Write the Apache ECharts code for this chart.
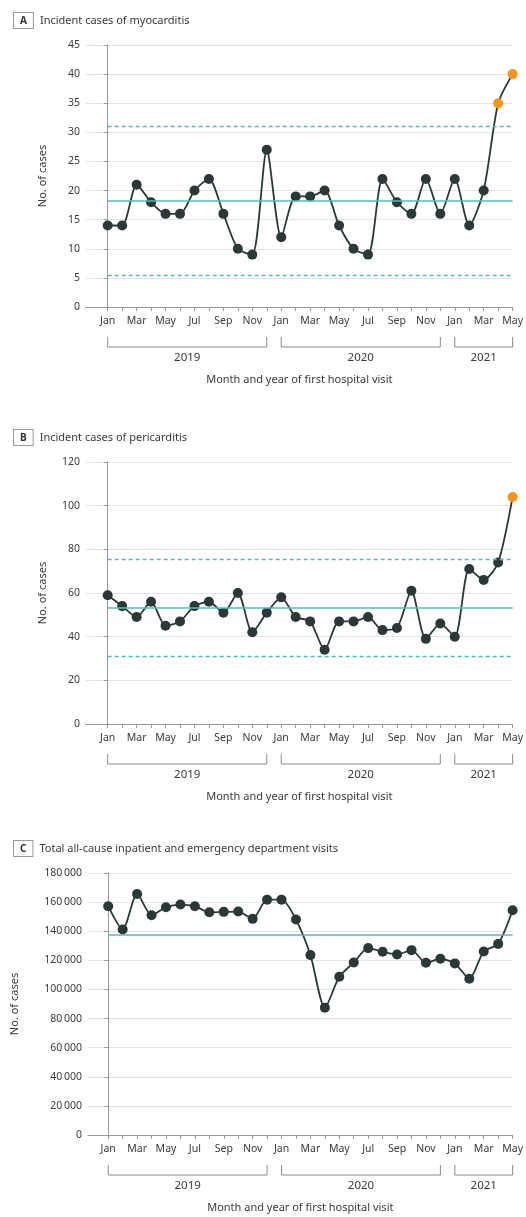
<!DOCTYPE html>
<html>
<head>
<meta charset="utf-8">
<script src="https://cdn.jsdelivr.net/npm/echarts@6/dist/echarts.min.js"></script>
<style>
html,body{margin:0;padding:0;background:#fff;}
#c{width:526px;height:1217px;}
</style>
</head>
<body>
<div id="c"></div>
<script>
// ---------- data ----------
const months = ['Jan','Feb','Mar','Apr','May','Jun','Jul','Aug','Sep','Oct','Nov','Dec',
                'Jan','Feb','Mar','Apr','May','Jun','Jul','Aug','Sep','Oct','Nov','Dec',
                'Jan','Feb','Mar','Apr','May'];
const years = ['2019','2020','2021'];
const yearStart = [0, 12, 24];
const yearEnd = [11, 23, 28];

const titles = ['Incident cases of myocarditis','Incident cases of pericarditis','Total all-cause inpatient and emergency department visits'];
const panelLetters = ['A','B','C'];

const myocarditis = [14,14,21,18,16,16,20,22,16,10,9,27,
                     12,19,19,20,14,10,9,22,18,16,22,16,
                     22,14,20,35,40];
const myoCenter = 18.3, myoUCL = 31.1, myoLCL = 5.5;
const myoSignal = [27, 28];

const pericarditis = [59,54,49,56,45,47,54,56,51,60,42,51,
                      58,49,47,34,47,47,49,43,44,61,39,46,
                      40,71,66,74,104];
const periCenter = 53.4, periUCL = 75.5, periLCL = 31.2;
const periSignal = [28];

const visits = [157200,141200,165600,151000,156500,158300,157200,153000,153300,153500,148500,161700,
                161700,148000,123600,87500,108700,118500,128400,125900,124000,127000,118300,121100,
                117900,107400,126100,131300,154400];
const visitCenter = 137700;
const visitSignal = [];

const yMax = [45, 120, 180000];
const yStep = [5, 20, 20000];

// ---------- styles ----------
const FONT = "'Noto Sans',sans-serif";
const TXT = '#3a3a3a';
const LINE = '#2b3838';
const ORANGE = '#f7941d';
const TEAL = '#55b9c4';

const gridTops = [45, 462, 873];
const gridLefts = [86, 86, 88];
const xMins = [-1.5, -1.5, -1.4];
const gridH = 262;

function fmtNum(v){
  if (v >= 1000) {
    const s = String(v);
    return s.slice(0, s.length-3) + '\u2009' + s.slice(s.length-3);
  }
  return String(v);
}

const idx = months.map((m,i)=>i);
const labelIdx = idx.filter(i => i % 2 === 0);

const grids = [], xAxes = [], yAxes = [], series = [], titleArr = [];
const datasets = [myocarditis, pericarditis, visits];
const signals = [myoSignal, periSignal, visitSignal];
const limits = [
  {c: myoCenter, u: myoUCL, l: myoLCL},
  {c: periCenter, u: periUCL, l: periLCL},
  {c: visitCenter}
];
const yNameGaps = [38, 38, 68];

for (let k = 0; k < 3; k++) {
  grids.push({left: gridLefts[k], right: 13, top: gridTops[k], height: gridH});
  titleArr.push({
    text: '{box|' + panelLetters[k] + '}{t|' + titles[k] + '}',
    left: 9, top: gridTops[k] - 37,
    textStyle: {
      fontWeight: 'normal',
      rich: {
        box: {fontFamily: FONT, fontSize: 10, fontWeight: 'bold', color: '#333',
              borderColor: '#9a9a9a', borderWidth: 1, padding: [3, 6, 2, 6], backgroundColor: '#fff'},
        t: {fontFamily: FONT, fontSize: 11, fontWeight: 'normal', color: TXT, padding: [0, 0, 0, 7]}
      }
    }
  });
  xAxes.push({
    type: 'value', gridIndex: k, min: xMins[k], max: 28,
    axisLine: {show: true, lineStyle: {color: '#9a9a9a', width: 1}},
    axisTick: {show: true, length: 4, inside: false, customValues: idx, lineStyle: {color: '#9a9a9a'}},
    axisLabel: {customValues: labelIdx, formatter: v => months[Math.round(v)] || '',
                fontFamily: FONT, fontSize: 10.5, color: TXT, margin: 9},
    splitLine: {show: false},
    name: 'Month and year of first hospital visit', nameLocation: 'middle', nameGap: 67,
    nameTextStyle: {fontFamily: FONT, fontSize: 11, color: TXT}
  });
  yAxes.push({
    type: 'value', gridIndex: k, min: 0, max: yMax[k], interval: yStep[k],
    axisLine: {show: true, lineStyle: {color: '#9a9a9a', width: 1}},
    axisTick: {show: true, length: 4, lineStyle: {color: '#9a9a9a'}},
    axisLabel: {formatter: fmtNum, fontFamily: FONT, fontSize: 10.5, color: TXT, margin: 6},
    splitLine: {show: true, lineStyle: {color: '#e4e4e4', width: 1}},
    name: 'No. of cases', nameLocation: 'middle', nameGap: yNameGaps[k],
    nameTextStyle: {fontFamily: FONT, fontSize: 11, color: TXT}
  });

  const L = limits[k];
  series.push({
    type: 'line', xAxisIndex: k, yAxisIndex: k,
    data: [], silent: true, symbol: 'none',
    markLine: {silent: true, symbol: ['none','none'], label: {show: false},
               lineStyle: {color: TEAL, width: 1.5, type: 'solid'},
               data: [[{coord: [0, L.c]}, {coord: [28, L.c]}]]},
    z: 1
  });
  if (L.u !== undefined) {
    series.push({
      type: 'line', xAxisIndex: k, yAxisIndex: k,
      data: [], silent: true, symbol: 'none',
      markLine: {silent: true, symbol: ['none','none'], label: {show: false},
                 lineStyle: {color: TEAL, width: 1.4, type: [4, 3]},
                 data: [[{coord: [0, L.u]}, {coord: [28, L.u]}],
                        [{coord: [0, L.l]}, {coord: [28, L.l]}]]},
      z: 1
    });
  }
  const sig = signals[k];
  series.push({
    type: 'line', xAxisIndex: k, yAxisIndex: k, z: 3,
    smooth: 0.25,
    symbol: 'circle', symbolSize: 10, showSymbol: true,
    lineStyle: {color: LINE, width: 1.8},
    itemStyle: {color: LINE},
    data: datasets[k].map((v, i) => sig.includes(i)
      ? {value: [i, v], itemStyle: {color: ORANGE}}
      : [i, v])
  });
}

const chart = echarts.init(document.getElementById('c'), null, {renderer: 'canvas'});
chart.setOption({
  animation: false,
  backgroundColor: '#fff',
  title: titleArr,
  grid: grids,
  xAxis: xAxes,
  yAxis: yAxes,
  series: series
});

// year brackets beneath the month axis, positioned through the axes' scales
const graphics = [];
for (let k = 0; k < 3; k++) {
  const base = chart.convertToPixel({yAxisIndex: k}, 0);
  const by = base + 40;
  for (let j = 0; j < years.length; j++) {
    const x0 = chart.convertToPixel({xAxisIndex: k}, yearStart[j]);
    const x1 = chart.convertToPixel({xAxisIndex: k}, yearEnd[j]);
    graphics.push({
      type: 'polyline', silent: true,
      shape: {points: [[x0, by - 10], [x0, by], [x1, by], [x1, by - 10]]},
      style: {stroke: '#8a8a8a', lineWidth: 1, fill: null}
    });
    graphics.push({
      type: 'text', silent: true,
      x: (x0 + x1) / 2, y: by + 11,
      style: {text: years[j], fontFamily: FONT, fontSize: 11.5, fill: TXT,
              align: 'center', verticalAlign: 'middle'}
    });
  }
}
chart.setOption({graphic: graphics});
</script>
</body>
</html>
